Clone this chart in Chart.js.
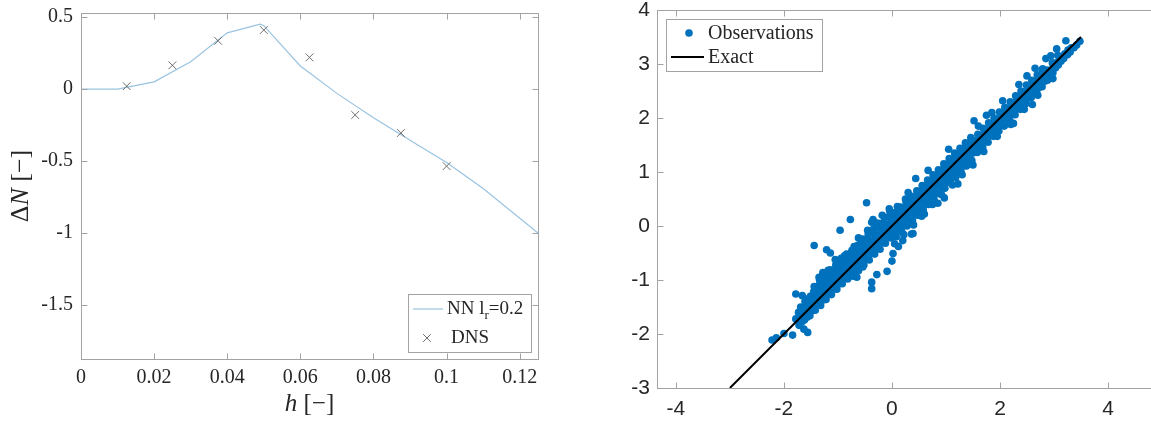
<!DOCTYPE html>
<html>
<head>
<meta charset="utf-8">
<script src="https://cdn.jsdelivr.net/npm/chart.js@4/dist/chart.umd.min.js"></script>
<style>
  html, body { margin: 0; padding: 0; background: #fff; overflow: hidden; width: 1151px; height: 422px; }
  #dnChart { position: absolute; left: 0; top: 0; }
  #predChart { position: absolute; left: 600px; top: 0; }
</style>
</head>
<body>
<canvas id="dnChart" width="560" height="422"></canvas>
<canvas id="predChart" width="567" height="422"></canvas>
<script>
// ---- left panel: Delta N against h ----
const nnH      = [0, 0.01, 0.02, 0.03, 0.04, 0.049, 0.05, 0.06, 0.07, 0.08, 0.09, 0.1, 0.11, 0.125];
const nnDeltaN = [0, 0, 0.05, 0.19, 0.39, 0.45, 0.44, 0.16, -0.03, -0.2, -0.355, -0.51, -0.69, -1.0];

const dnsH      = [0.0125, 0.025, 0.0375, 0.05, 0.0625, 0.075, 0.0875, 0.1];
const dnsDeltaN = [0.02, 0.165, 0.335, 0.41, 0.22, -0.18, -0.305, -0.535];

const hTicks  = [0, 0.02, 0.04, 0.06, 0.08, 0.1, 0.12];
const dnTicks = [-1.5, -1, -0.5, 0, 0.5];

// ---- right panel: predicted vs exact ----
const observations = [
  // outliers
  [-2.22,-2.11],[-2.14,-2.07],[-2.00,-1.99],[-1.84,-2.02],[-1.78,-1.72],[-1.63,-1.91],[-1.56,-1.97],
  [-1.78,-1.26],[-1.66,-1.29],[-1.44,-0.36],[-1.21,-0.44],[-1.14,-0.50],[-0.96,-0.08],[-0.77,0.12],
  [-0.47,0.43],[-0.375,0.07],[-0.54,-0.76],[-0.375,-1.04],[-0.375,-1.16],[-0.28,-0.90],[-0.09,-0.84],
  [0.00,-0.65],[0.02,-0.51],[0.36,-0.15],[0.44,0.88],[0.67,1.03],[0.97,0.52],[1.52,1.95],
  [2.34,2.33],[2.56,2.59],[2.78,2.89],[2.94,3.15],[2.98,2.73],[3.22,3.43],[3.48,3.42],
  [-1.28,-0.86],[-1.05,-0.62],[-0.62,-0.22],[-0.35,0.12],[0.12,-0.38],[0.55,0.18],[0.85,0.42],
  [1.22,0.78],[0.30,0.62],[1.05,1.42],[1.75,2.05],[2.25,1.90],[2.60,2.25],[2.50,2.78],
  [0.20,-0.27],[0.39,-0.14],[-0.65,-0.95],
  // band edges
  [-1.35,-0.95],[-1.18,-0.82],[-1.00,-0.66],[-0.88,-0.55],[-0.70,-0.38],[-0.58,-0.25],[-0.45,-0.08],
  [-0.30,0.06],[-0.18,0.20],[-0.05,0.32],[0.10,0.36],[0.25,0.50],
  [0.05,-0.33],[0.22,-0.16],[0.40,0.02],[0.60,0.22],[0.75,0.40],[0.92,0.58],[1.12,0.76],[1.30,0.95],
  [1.50,1.13],[1.70,1.38],[1.95,1.66],[2.20,1.88],[2.45,2.16],[2.70,2.42],
  [1.60,1.85],[1.85,2.10],[2.05,2.32],[2.35,2.62],[2.65,2.92],[2.85,3.10],[3.05,3.28],
  // band
  [-1.72,-1.84],[-1.70,-1.71],[-1.73,-1.60],[-1.69,-1.50],
  [-1.62,-1.74],[-1.60,-1.63],[-1.63,-1.52],[-1.61,-1.40],
  [-1.52,-1.66],[-1.50,-1.54],[-1.53,-1.43],[-1.51,-1.30],
  [-1.42,-1.56],[-1.40,-1.45],[-1.43,-1.34],[-1.41,-1.22],[-1.44,-1.12],
  [-1.32,-1.47],[-1.30,-1.36],[-1.33,-1.24],[-1.31,-1.11],[-1.34,-1.00],
  [-1.22,-1.36],[-1.20,-1.27],[-1.23,-1.15],[-1.21,-1.02],[-1.24,-0.92],
  [-1.12,-1.27],[-1.10,-1.16],[-1.13,-1.04],[-1.11,-0.92],[-1.14,-0.81],
  [-1.02,-1.17],[-1.00,-1.06],[-1.03,-0.94],[-1.01,-0.83],[-1.04,-0.72],
  [-0.92,-1.07],[-0.90,-0.96],[-0.93,-0.85],[-0.91,-0.73],[-0.94,-0.60],
  [-0.82,-0.98],[-0.80,-0.86],[-0.83,-0.75],[-0.81,-0.62],[-0.84,-0.52],
  [-0.72,-0.93],[-0.70,-0.79],[-0.73,-0.67],[-0.71,-0.56],[-0.74,-0.45],
  [-0.62,-0.83],[-0.60,-0.69],[-0.63,-0.57],[-0.61,-0.46],[-0.64,-0.36],
  [-0.52,-0.72],[-0.50,-0.59],[-0.53,-0.47],[-0.51,-0.36],[-0.54,-0.24],
  [-0.42,-0.63],[-0.40,-0.48],[-0.43,-0.37],[-0.41,-0.26],[-0.44,-0.15],
  [-0.32,-0.52],[-0.30,-0.39],[-0.33,-0.27],[-0.31,-0.16],[-0.34,-0.05],
  [-0.22,-0.43],[-0.20,-0.28],[-0.23,-0.17],[-0.21,-0.06],[-0.24,0.05],
  [-0.12,-0.32],[-0.10,-0.18],[-0.13,-0.07],[-0.11,0.04],[-0.14,0.16],
  [-0.02,-0.22],[0.00,-0.09],[-0.03,0.03],[-0.01,0.14],[-0.04,0.27],
  [0.08,-0.20],[0.10,-0.06],[0.07,0.03],[0.09,0.16],[0.06,0.25],
  [0.18,-0.10],[0.20,0.05],[0.17,0.13],[0.19,0.26],[0.16,0.35],
  [0.28,0.00],[0.30,0.14],[0.27,0.23],[0.29,0.35],[0.26,0.45],
  [0.38,0.10],[0.40,0.25],[0.37,0.33],[0.39,0.45],[0.36,0.55],
  [0.48,0.20],[0.50,0.34],[0.47,0.43],[0.49,0.56],[0.46,0.65],
  [0.58,0.30],[0.60,0.45],[0.57,0.53],[0.59,0.66],[0.56,0.75],
  [0.68,0.40],[0.70,0.55],[0.67,0.63],[0.69,0.76],[0.66,0.85],
  [0.78,0.50],[0.80,0.64],[0.77,0.73],[0.79,0.86],[0.76,0.95],
  [0.88,0.60],[0.90,0.75],[0.87,0.83],[0.89,0.96],[0.86,1.04],
  [0.98,0.70],[1.00,0.85],[0.97,0.93],[0.99,1.06],[0.96,1.15],
  [1.08,0.81],[1.10,0.95],[1.07,1.03],[1.09,1.16],[1.06,1.25],
  [1.18,0.90],[1.20,1.05],[1.17,1.13],[1.19,1.26],[1.16,1.35],
  [1.28,1.00],[1.30,1.15],[1.27,1.23],[1.29,1.36],[1.26,1.44],
  [1.38,1.11],[1.40,1.25],[1.37,1.33],[1.39,1.46],[1.36,1.54],
  [1.48,1.21],[1.50,1.35],[1.47,1.43],[1.49,1.56],[1.46,1.64],
  [1.58,1.36],[1.60,1.50],[1.57,1.58],[1.59,1.70],
  [1.68,1.46],[1.70,1.60],[1.67,1.68],[1.69,1.81],
  [1.78,1.55],[1.80,1.70],[1.77,1.78],[1.79,1.91],
  [1.88,1.66],[1.90,1.80],[1.87,1.88],[1.89,2.00],
  [1.98,1.76],[2.00,1.89],[1.97,1.98],[1.99,2.11],
  [2.08,1.85],[2.10,2.00],[2.07,2.08],[2.09,2.20],
  [2.18,1.96],[2.20,2.10],[2.17,2.18],[2.19,2.30],
  [2.28,2.06],[2.30,2.19],[2.27,2.28],[2.29,2.41],
  [2.38,2.16],[2.40,2.29],[2.37,2.38],[2.39,2.50],
  [2.48,2.27],[2.50,2.39],[2.47,2.48],[2.49,2.61],
  [2.58,2.38],[2.60,2.50],[2.57,2.58],[2.59,2.70],
  [2.68,2.48],[2.70,2.60],[2.67,2.68],[2.69,2.80],
  [2.78,2.58],[2.80,2.69],[2.77,2.78],[2.79,2.91],
  [2.88,2.70],[2.90,2.79],[2.87,2.89],
  [2.98,2.84],[3.00,2.92],[2.97,3.02],
  [3.08,2.98],[3.10,3.08],[3.07,3.16],
  [3.18,3.10],[3.20,3.19],
  [3.30,3.22],[3.32,3.30],
  [3.42,3.35],
  // band, in-between columns
  [-1.67,-1.78],[-1.66,-1.66],[-1.68,-1.55],[-1.57,-1.69],[-1.56,-1.58],[-1.58,-1.46],[-1.55,-1.35],
  [-1.47,-1.57],[-1.46,-1.45],[-1.48,-1.33],[-1.45,-1.22],
  [-1.37,-1.47],[-1.36,-1.35],[-1.38,-1.23],[-1.35,-1.10],
  [-1.27,-1.37],[-1.26,-1.25],[-1.28,-1.13],[-1.25,-1.00],
  [-1.17,-1.27],[-1.16,-1.15],[-1.18,-1.03],[-1.15,-0.90],
  [-1.07,-1.17],[-1.06,-1.05],[-1.08,-0.93],[-1.05,-0.80],
  [-0.97,-1.07],[-0.96,-0.95],[-0.98,-0.83],[-0.95,-0.70],
  [-0.87,-0.97],[-0.86,-0.85],[-0.88,-0.73],[-0.85,-0.60],
  [-0.77,-0.89],[-0.76,-0.75],[-0.78,-0.63],[-0.75,-0.50],
  [-0.67,-0.81],[-0.66,-0.68],[-0.68,-0.58],[-0.65,-0.43],
  [-0.57,-0.71],[-0.56,-0.58],[-0.58,-0.48],[-0.55,-0.33],
  [-0.47,-0.61],[-0.46,-0.48],[-0.48,-0.38],[-0.45,-0.23],
  [-0.37,-0.51],[-0.36,-0.38],[-0.38,-0.28],[-0.35,-0.13],
  [-0.27,-0.41],[-0.26,-0.28],[-0.28,-0.18],[-0.25,-0.03],
  [-0.17,-0.31],[-0.16,-0.18],[-0.18,-0.08],[-0.15,0.07],
  [-0.07,-0.21],[-0.06,-0.08],[-0.08,0.02],[-0.05,0.17],
  [0.03,-0.19],[0.04,-0.06],[0.02,0.04],[0.05,0.15],
  [0.13,-0.09],[0.14,0.04],[0.12,0.14],[0.15,0.25],
  [0.23,0.01],[0.24,0.14],[0.22,0.24],[0.25,0.35],
  [0.33,0.11],[0.34,0.24],[0.32,0.34],[0.35,0.45],
  [0.43,0.21],[0.44,0.34],[0.42,0.44],[0.45,0.55],
  [0.53,0.31],[0.54,0.44],[0.52,0.54],[0.55,0.65],
  [0.63,0.41],[0.64,0.54],[0.62,0.64],[0.65,0.75],
  [0.73,0.51],[0.74,0.64],[0.72,0.74],[0.75,0.85],
  [0.83,0.61],[0.84,0.74],[0.82,0.84],[0.85,0.95],
  [0.93,0.71],[0.94,0.84],[0.92,0.94],[0.95,1.05],
  [1.03,0.81],[1.04,0.94],[1.02,1.04],[1.05,1.15],
  [1.13,0.91],[1.14,1.04],[1.12,1.14],[1.15,1.25],
  [1.23,1.01],[1.24,1.14],[1.22,1.24],[1.25,1.35],
  [1.33,1.11],[1.34,1.24],[1.32,1.34],[1.35,1.45],
  [1.43,1.21],[1.44,1.34],[1.42,1.44],[1.45,1.55],
  [1.53,1.37],[1.54,1.49],[1.52,1.58],
  [1.63,1.47],[1.64,1.59],[1.62,1.68],
  [1.73,1.57],[1.74,1.69],[1.72,1.78],
  [1.83,1.67],[1.84,1.79],[1.82,1.88],
  [1.93,1.77],[1.94,1.89],[1.92,1.98],
  [2.03,1.87],[2.04,1.99],[2.02,2.08],
  [2.13,1.97],[2.14,2.09],[2.12,2.18],
  [2.23,2.07],[2.24,2.19],[2.22,2.28],
  [2.33,2.17],[2.34,2.29],[2.32,2.38],
  [2.43,2.27],[2.44,2.39],[2.42,2.48],
  [2.53,2.37],[2.54,2.49],[2.52,2.58],
  [2.63,2.47],[2.64,2.59],[2.62,2.68],
  [2.73,2.57],[2.74,2.69],[2.72,2.78],
  [2.83,2.68],[2.84,2.79],[2.82,2.88],
  [2.93,2.80],[2.94,2.89],
  [3.03,2.93],[3.04,3.02],
  [3.13,3.05],[3.14,3.13],
  [3.25,3.17],[3.26,3.26],
  [3.37,3.30]
];
const exactEnds = [-3, 3.5];

const predTicksX = [-4, -2, 0, 2, 4];
const predTicksY = [-3, -2, -1, 0, 1, 2, 3, 4];

const NN_COLOR   = "#99c3e1";
const DNS_COLOR  = "#6e6e6e";
const OBS_COLOR  = "#0072BD";
const AXIS_COLOR = "#a3a3a3";
const TEXT_COLOR = "#262626";
const SERIF = "'Liberation Serif', 'Times New Roman', serif";
const SANS  = "'Liberation Sans', Arial, sans-serif";

Chart.defaults.animation = false;

function setTicks(values) {
  return scale => { scale.ticks = values.map(v => ({ value: v })); };
}

// fixed axis box sizes; label overhang padding is dropped so the plot area is exact
function fixWidth(w) {
  return s => { s.width = w; s.paddingTop = 0; s.paddingBottom = 0; };
}
function fixHeight(h) {
  return s => { s.height = h; s.paddingLeft = 0; s.paddingRight = 0; };
}

// draw text made of several font runs, centred on (cx, cy)
function drawRuns(ctx, runs, cx, cy) {
  let total = 0;
  const widths = runs.map(([txt, font]) => {
    ctx.font = font;
    const w = ctx.measureText(txt).width;
    total += w;
    return w;
  });
  let x = cx - total / 2;
  runs.forEach(([txt, font, dy], i) => {
    ctx.font = font;
    ctx.fillText(txt, x, cy + (dy || 0));
    x += widths[i];
  });
}

// box around the plot area with inward tick marks on all four sides
const boxTicks = {
  id: "boxTicks",
  afterDraw(chart, args, opts) {
    const { ctx, chartArea: a, scales } = chart;
    const L = Math.round(a.left) + 0.5, R = Math.round(a.right) + 0.5;
    const T = Math.round(a.top) + 0.5, B = Math.round(a.bottom) + 0.5;
    const len = opts.len || 6;
    ctx.save();
    ctx.strokeStyle = AXIS_COLOR;
    ctx.lineWidth = 1;
    ctx.strokeRect(L, T, R - L, B - T);
    ctx.beginPath();
    for (const t of scales.x.ticks) {
      const px = Math.round(scales.x.getPixelForValue(t.value)) + 0.5;
      ctx.moveTo(px, B); ctx.lineTo(px, B - len);
      ctx.moveTo(px, T); ctx.lineTo(px, T + len);
    }
    for (const t of scales.y.ticks) {
      const py = Math.round(scales.y.getPixelForValue(t.value)) + 0.5;
      ctx.moveTo(L, py); ctx.lineTo(L + len, py);
      ctx.moveTo(R, py); ctx.lineTo(R - len, py);
    }
    ctx.stroke();
    ctx.restore();
  }
};

const dnDecor = {
  id: "dnDecor",
  afterDraw(chart) {
    const { ctx, chartArea: a } = chart;
    ctx.save();
    ctx.fillStyle = TEXT_COLOR;
    ctx.textBaseline = "middle";

    // axis titles
    drawRuns(ctx, [["h", "italic 25px " + SERIF], [" [\u2212]", "25px " + SERIF]],
      (a.left + a.right) / 2, 404);
    ctx.save();
    ctx.translate(21, (a.top + a.bottom) / 2);
    ctx.rotate(-Math.PI / 2);
    drawRuns(ctx, [["\u0394", "26px " + SERIF], ["N", "italic 26px " + SERIF], [" [\u2212]", "26px " + SERIF]], 0, 0);
    ctx.restore();

    // legend, bottom right
    const w = 123, h = 58;
    const x0 = Math.round(a.right) - 7 - w, y0 = Math.round(a.bottom) - 7 - h;
    ctx.fillStyle = "#fff";
    ctx.fillRect(x0, y0, w, h);
    ctx.strokeStyle = AXIS_COLOR;
    ctx.lineWidth = 1;
    ctx.strokeRect(x0 + 0.5, y0 + 0.5, w, h);

    ctx.strokeStyle = NN_COLOR;
    ctx.lineWidth = 1.2;
    ctx.beginPath();
    ctx.moveTo(x0 + 5, y0 + 15);
    ctx.lineTo(x0 + 35, y0 + 15);
    ctx.stroke();

    ctx.fillStyle = TEXT_COLOR;
    ctx.textAlign = "left";
    let tx = x0 + 39;
    ctx.font = "19px " + SERIF;
    ctx.fillText("NN l", tx, y0 + 15);
    tx += ctx.measureText("NN l").width;
    ctx.font = "13px " + SERIF;
    ctx.fillText("r", tx, y0 + 22);
    tx += ctx.measureText("r").width;
    ctx.font = "19px " + SERIF;
    ctx.fillText("=0.2", tx, y0 + 15);

    ctx.strokeStyle = DNS_COLOR;
    ctx.lineWidth = 1;
    Chart.helpers.drawPoint(ctx, { pointStyle: "crossRot", radius: 5.5, borderWidth: 1, rotation: 0 }, x0 + 19, y0 + 44);
    ctx.fillStyle = TEXT_COLOR;
    ctx.font = "19px " + SERIF;
    ctx.fillText("DNS", x0 + 43, y0 + 44);
    ctx.restore();
  }
};

const predLegend = {
  id: "predLegend",
  afterDraw(chart) {
    const { ctx, chartArea: a } = chart;
    const w = 156, h = 52;
    const x0 = Math.round(a.left) + 9, y0 = Math.round(a.top) + 9;
    ctx.save();
    ctx.fillStyle = "#fff";
    ctx.fillRect(x0, y0, w, h);
    ctx.strokeStyle = AXIS_COLOR;
    ctx.lineWidth = 1;
    ctx.strokeRect(x0 + 0.5, y0 + 0.5, w, h);

    ctx.fillStyle = OBS_COLOR;
    ctx.beginPath();
    ctx.arc(x0 + 23, y0 + 14, 3.8, 0, Math.PI * 2);
    ctx.fill();

    ctx.strokeStyle = "#000";
    ctx.lineWidth = 2;
    ctx.beginPath();
    ctx.moveTo(x0 + 5, y0 + 38);
    ctx.lineTo(x0 + 38, y0 + 38);
    ctx.stroke();

    ctx.fillStyle = TEXT_COLOR;
    ctx.textBaseline = "middle";
    ctx.textAlign = "left";
    ctx.font = "20px " + SERIF;
    ctx.fillText("Observations", x0 + 42, y0 + 15);
    ctx.fillText("Exact", x0 + 42, y0 + 39);
    ctx.restore();
  }
};

new Chart(document.getElementById("dnChart"), {
  type: "scatter",
  data: {
    datasets: [
      {
        label: "DNS",
        data: dnsH.map((h, i) => ({ x: h, y: dnsDeltaN[i] })),
        pointStyle: "crossRot",
        pointRadius: 5.5,
        borderColor: DNS_COLOR,
        borderWidth: 1,
        order: 0
      },
      {
        label: "NN",
        data: nnH.map((h, i) => ({ x: h, y: nnDeltaN[i] })),
        showLine: true,
        borderColor: NN_COLOR,
        borderWidth: 1.2,
        pointRadius: 0,
        tension: 0,
        order: 1
      }
    ]
  },
  options: {
    responsive: false,
    devicePixelRatio: 1,
    layout: { padding: { left: 0, top: 13, right: 22, bottom: 0 } },
    plugins: { legend: { display: false }, tooltip: { enabled: false }, boxTicks: { len: 6 } },
    scales: {
      x: {
        type: "linear", min: 0, max: 0.125,
        afterBuildTicks: setTicks(hTicks),
        afterFit: fixHeight(63),
        grid: { display: false, drawTicks: false },
        border: { display: false },
        ticks: { padding: 7, color: TEXT_COLOR, font: { family: SERIF, size: 20 }, callback: v => String(v), maxRotation: 0 }
      },
      y: {
        type: "linear", min: -1.874, max: 0.528,
        afterBuildTicks: setTicks(dnTicks),
        afterFit: fixWidth(81),
        grid: { display: false, drawTicks: false },
        border: { display: false },
        ticks: { padding: 8, color: TEXT_COLOR, font: { family: SERIF, size: 20 }, callback: v => String(v) }
      }
    }
  },
  plugins: [boxTicks, dnDecor]
});

new Chart(document.getElementById("predChart"), {
  type: "scatter",
  data: {
    datasets: [
      {
        label: "Exact",
        data: exactEnds.map(v => ({ x: v, y: v })),
        showLine: true,
        borderColor: "#000",
        borderWidth: 2,
        pointRadius: 0,
        order: 0
      },
      {
        label: "Observations",
        data: observations.map(([x, y]) => ({ x, y })),
        pointRadius: 3.8,
        pointBackgroundColor: OBS_COLOR,
        pointBorderWidth: 0,
        order: 1
      }
    ]
  },
  options: {
    responsive: false,
    devicePixelRatio: 1,
    layout: { padding: { left: 0, top: 10, right: 5, bottom: 0 } },
    plugins: { legend: { display: false }, tooltip: { enabled: false }, boxTicks: { len: 6 } },
    scales: {
      x: {
        type: "linear", min: -4.35, max: 5.0,
        afterBuildTicks: setTicks(predTicksX),
        afterFit: fixHeight(34),
        grid: { display: false, drawTicks: false },
        border: { display: false },
        ticks: { padding: 9, color: TEXT_COLOR, font: { family: SANS, size: 21 }, callback: v => String(v), maxRotation: 0 }
      },
      y: {
        type: "linear", min: -3, max: 4,
        afterBuildTicks: setTicks(predTicksY),
        afterFit: fixWidth(57),
        grid: { display: false, drawTicks: false },
        border: { display: false },
        ticks: { padding: 7, color: TEXT_COLOR, font: { family: SANS, size: 21 }, callback: v => String(v) }
      }
    }
  },
  plugins: [boxTicks, predLegend]
});
</script>
</body>
</html>
